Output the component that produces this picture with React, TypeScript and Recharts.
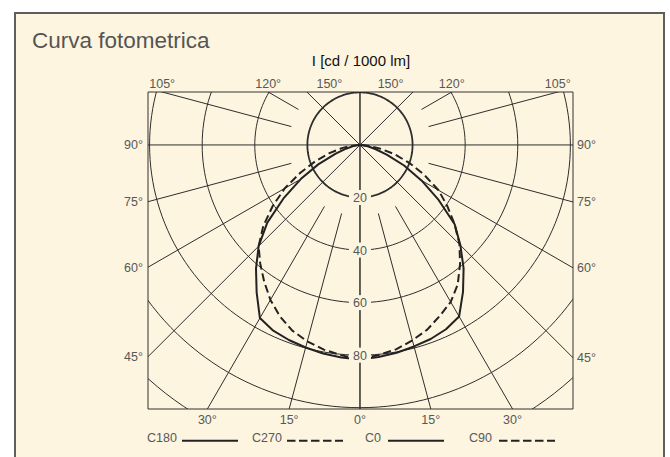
import React from "react"
import { ComposedChart, Line, XAxis, YAxis, ReferenceDot, ReferenceArea } from "recharts"

// polar angle from nadir (deg) and luminous intensity I [cd / 1000 lm]
const angles = [0, 5, 10, 15, 20, 25, 30, 35, 40, 45, 50, 55, 60, 65, 70, 75, 80, 85, 90]
const c0 = [81.7, 81.0, 80.3, 79.4, 78.6, 77.4, 75.4, 68.3, 61.3, 54, 47, 36.5, 27, 18.5, 11, 6, 3, 1, 0]
const c90 = [81.5, 80.3, 79.0, 77.0, 74.8, 71.8, 69.0, 64.8, 59.2, 53.5, 47, 40.5, 34.5, 27, 20, 13.5, 7.5, 3, 0]
const c180 = [81.7, 81.2, 80.6, 79.8, 79.0, 78.0, 76.1, 68.5, 61.5, 54.5, 46, 35.5, 26, 17.5, 10, 5.5, 2.6, 0.8, 0]
const c270 = [81.5, 80.4, 79.1, 77.4, 75.2, 72.0, 68.1, 63.5, 59.0, 54.5, 48, 40.5, 33, 25, 18, 12, 7, 3, 0]

const gridRadii = [20, 40, 60, 80, 100, 120]
const intensityLabels = [20, 40, 60, 80]
const spokeAngles = [15, 30, 60, 75, 105, 120]
const diameterAngles = [0, 45, 90, 135]
const bottomTicks = [-30, -15, 0, 15, 30]
const sideTicks = [90, 75, 60, 45]
const topTicks = [105, 120, 150]

const legendNames = ["C180", "C270", "C0", "C90"]
const legendDashed = [false, true, false, true]

const X_DOMAIN: [number, number] = [-80.6, 81]
const Y_DOMAIN: [number, number] = [-100.5, 20.15]

const BG = "#fdf5df"
const INK = "#222222"
const GRID = "#2e2e2e"
const TEXT = "#585858"
const FONT = "'Liberation Sans', Arial, sans-serif"

const rad = (d: number) => (d * Math.PI) / 180
const polar = (angle: number, r: number, side: number) => ({
  x: side * r * Math.sin(rad(angle)),
  y: -r * Math.cos(rad(angle)),
})
const curve = (values: number[], side: number) => angles.map((a, i) => polar(a, values[i], side))
const circle = (r: number) => Array.from({ length: 181 }, (_, i) => polar(i * 2, r, 1))

// where a ray at this angle leaves the frame
const edgePoint = (angle: number, side: number) => {
  const dx = side * Math.sin(rad(angle))
  const dy = -Math.cos(rad(angle))
  const ts: number[] = []
  if (dx > 1e-9) ts.push(X_DOMAIN[1] / dx)
  if (dx < -1e-9) ts.push(X_DOMAIN[0] / dx)
  if (dy > 1e-9) ts.push(Y_DOMAIN[1] / dy)
  if (dy < -1e-9) ts.push(Y_DOMAIN[0] / dy)
  const t = Math.min(...ts)
  return { x: dx * t, y: dy * t }
}

const series = [
  { name: "C180", data: curve(c180, -1), dashed: false },
  { name: "C270", data: curve(c270, -1), dashed: true },
  { name: "C0", data: curve(c0, 1), dashed: false },
  { name: "C90", data: curve(c90, 1), dashed: true },
]

// text offsets per frame side: [dx, dy, anchor]
const labelPlacement: Record<string, [number, number, "start" | "middle" | "end"]> = {
  bottom: [0, 15, "middle"],
  top: [0, -4.5, "middle"],
  left: [-5, 4.5, "end"],
  right: [4, 4.5, "start"],
}

function tickLabel(key: string, p: { x: number; y: number }, text: string, side: string) {
  const [dx, dy, anchor] = labelPlacement[side]
  return (
    <ReferenceDot
      key={key}
      x={p.x}
      y={p.y}
      r={0}
      ifOverflow="visible"
      shape={(s: any) => (
        <text x={s.cx + dx} y={s.cy + dy} textAnchor={anchor} fontSize={12.5} fill={TEXT} fontFamily={FONT}>
          {text}
        </text>
      )}
    />
  )
}

function PhotometricChart() {
  const gridLine = (key: string, data: { x: number; y: number }[], width = 1) => (
    <Line
      key={key}
      data={data}
      dataKey="y"
      type="linear"
      stroke={GRID}
      strokeWidth={width}
      dot={false}
      activeDot={false}
      legendType="none"
      isAnimationActive={false}
    />
  )

  return (
    <ComposedChart width={670} height={457} margin={{ top: 92, right: 97, bottom: 48, left: 148 }}>
      <XAxis type="number" dataKey="x" domain={X_DOMAIN} allowDataOverflow hide />
      <YAxis type="number" dataKey="y" domain={Y_DOMAIN} allowDataOverflow hide />

      {gridRadii.filter((r) => r !== 20).map((r) => gridLine(`circle-${r}`, circle(r)))}
      {spokeAngles.flatMap((a) =>
        [-1, 1].map((s) => gridLine(`spoke-${a}-${s}`, [polar(a, 27, s), polar(a, 140, s)]))
      )}
      {diameterAngles.map((a) => {
        const p = polar(a, 140, 1)
        return gridLine(`diam-${a}`, [p, { x: -p.x, y: -p.y }], a === 0 ? 1.5 : 1)
      })}
      {gridLine("circle-20", circle(20), 1.8)}

      {series.map((s) => (
        <Line
          key={s.name}
          name={s.name}
          data={s.data}
          dataKey="y"
          type="linear"
          stroke={INK}
          strokeWidth={2}
          strokeLinejoin="round"
          strokeDasharray={s.dashed ? "8 4" : undefined}
          dot={false}
          activeDot={false}
          isAnimationActive={false}
        />
      ))}

      {intensityLabels.map((v) => (
        <ReferenceDot
          key={`val-${v}`}
          x={0}
          y={-v}
          r={0}
          ifOverflow="visible"
          shape={(p: any) => (
            <g>
              <rect x={p.cx - 11} y={p.cy - 7.5} width={22} height={15} fill={BG} />
              <text x={p.cx} y={p.cy + 4.5} textAnchor="middle" fontSize={12.5} fill={TEXT} fontFamily={FONT}>
                {v}
              </text>
            </g>
          )}
        />
      ))}

      <ReferenceArea
        x1={X_DOMAIN[0]}
        x2={X_DOMAIN[1]}
        y1={Y_DOMAIN[0]}
        y2={Y_DOMAIN[1]}
        ifOverflow="visible"
        fill="none"
        fillOpacity={0}
        stroke="#333"
        strokeWidth={1}
      />

      {bottomTicks.map((a) =>
        tickLabel(`b${a}`, edgePoint(Math.abs(a), a < 0 ? -1 : 1), `${Math.abs(a)}°`, "bottom")
      )}
      {sideTicks.flatMap((a) => [
        tickLabel(`l${a}`, edgePoint(a, -1), `${a}°`, "left"),
        tickLabel(`r${a}`, edgePoint(a, 1), `${a}°`, "right"),
      ])}
      {topTicks.flatMap((a) => [
        tickLabel(`tl${a}`, edgePoint(a, -1), `${a}°`, "top"),
        tickLabel(`tr${a}`, edgePoint(a, 1), `${a}°`, "top"),
      ])}
    </ComposedChart>
  )
}

function Titles() {
  const textX = [147, 252, 365, 469]
  const lineX = [182, 287, 388, 499]
  return (
    <svg width={670} height={457} style={{ position: "absolute", left: 0, top: 0, pointerEvents: "none" }}>
      <text x={32} y={48} fontSize={22.5} fill="#555" fontFamily={FONT}>
        Curva fotometrica
      </text>
      <text x={361} y={66} fontSize={15} fill="#111" textAnchor="middle" fontFamily={FONT}>
        I [cd / 1000 lm]
      </text>
      {legendNames.map((name, i) => (
        <g key={name}>
          <text x={textX[i]} y={441.5} fontSize={12.5} fill={TEXT} fontFamily={FONT}>
            {name}
          </text>
          <line
            x1={lineX[i]}
            x2={lineX[i] + 56}
            y1={440.7}
            y2={440.7}
            stroke={INK}
            strokeWidth={2}
            strokeDasharray={legendDashed[i] ? "8.5 3.5" : undefined}
          />
        </g>
      ))}
    </svg>
  )
}

export default function App() {
  return (
    <div style={{ position: "fixed", left: 0, top: 0, width: 670, height: 457, background: "#fff", overflow: "hidden", fontFamily: FONT }}>
      <div
        style={{
          position: "absolute",
          left: 14,
          top: 12,
          width: 651,
          height: 470,
          boxSizing: "border-box",
          background: BG,
          borderTop: "2px solid #5e5e5e",
          borderLeft: "2px solid #5e5e5e",
          borderRight: "2px solid #5e5e5e",
        }}
      />
      <div style={{ position: "absolute", left: 0, top: 0 }}>
        <PhotometricChart />
      </div>
      <Titles />
    </div>
  )
}
